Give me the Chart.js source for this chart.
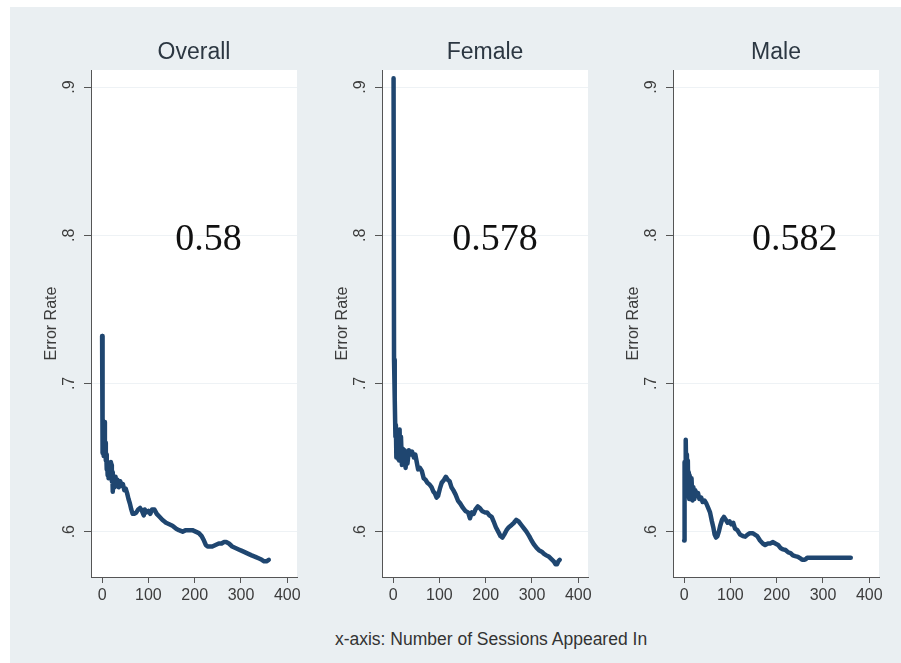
<!DOCTYPE html>
<html>
<head>
<meta charset="utf-8">
<script src="https://cdn.jsdelivr.net/npm/chart.js@4/dist/chart.umd.min.js"></script>
<style>
  html, body { margin: 0; padding: 0; background: #fff; }
  body { width: 901px; height: 663px; position: relative; overflow: hidden; }
  #frame { position: absolute; left: 10px; top: 7px; width: 891px; height: 656px; background: #eaeff2; }
  canvas { position: absolute; top: 20px; }
  #c1 { left: 20px; }
  #c2 { left: 311px; }
  #c3 { left: 602px; }
  #foot {
    position: absolute; left: 291px; width: 400px; top: 629px; text-align: center;
    font: 17.5px "Liberation Sans", Arial, sans-serif; color: #333;
  }
</style>
</head>
<body>
<div id="frame"></div>
<canvas id="c1" width="290" height="600"></canvas>
<canvas id="c2" width="290" height="600"></canvas>
<canvas id="c3" width="290" height="600"></canvas>
<div id="foot">x-axis: Number of Sessions Appeared In</div>

<script>
// Running error rate by number of sessions, three panels (Stata-style graph).

const titles = ["Overall", "Female", "Male"];
const notes = ["0.58", "0.578", "0.582"];
const xTicks = [0, 100, 200, 300, 400];
const yTicks = [0.6, 0.7, 0.8, 0.9];
const yTickLabels = [".6", ".7", ".8", ".9"];

const overallX = [0, 1, 2, 3, 4, 5, 6, 7, 8, 9, 10, 11, 12, 13, 14, 16, 18, 19, 20, 21, 22, 23, 25, 27, 29, 31, 33, 36, 39, 42, 45, 48, 51, 54, 57, 60, 63, 66, 70, 74, 78, 82, 86, 90, 92, 96, 100, 104, 108, 113, 118, 124, 130, 138, 145, 152, 160, 166, 174, 181, 188, 195, 202, 209, 215, 220, 224, 228, 233, 238, 245, 252, 258, 263, 268, 274, 281, 288, 295, 302, 309, 316, 323, 331, 338, 345, 350, 355, 360];
const overallY = [0.732, 0.653, 0.660, 0.651, 0.655, 0.674, 0.652, 0.660, 0.648, 0.652, 0.642, 0.646, 0.638, 0.643, 0.636, 0.641, 0.637, 0.647, 0.645, 0.634, 0.640, 0.627, 0.636, 0.630, 0.637, 0.632, 0.635, 0.630, 0.634, 0.631, 0.632, 0.628, 0.629, 0.626, 0.622, 0.619, 0.615, 0.612, 0.612, 0.613, 0.615, 0.616, 0.614, 0.611, 0.615, 0.613, 0.614, 0.612, 0.615, 0.615, 0.612, 0.610, 0.608, 0.606, 0.605, 0.604, 0.602, 0.601, 0.600, 0.601, 0.601, 0.601, 0.600, 0.599, 0.597, 0.594, 0.591, 0.590, 0.590, 0.590, 0.591, 0.592, 0.592, 0.593, 0.593, 0.592, 0.590, 0.589, 0.588, 0.587, 0.586, 0.585, 0.584, 0.583, 0.582, 0.581, 0.580, 0.580, 0.581];

const femaleX = [1, 2, 3, 4, 5, 6, 7, 8, 9, 10, 11, 12, 13, 14, 15, 17, 19, 21, 23, 25, 27, 29, 31, 34, 37, 41, 45, 48, 51, 54, 58, 62, 66, 70, 74, 78, 83, 87, 90, 94, 97, 101, 105, 110, 114, 118, 122, 126, 130, 135, 140, 145, 151, 156, 162, 166, 170, 174, 178, 183, 187, 192, 198, 203, 208, 213, 217, 222, 227, 232, 236, 240, 245, 250, 256, 261, 266, 271, 277, 283, 288, 294, 299, 305, 310, 315, 321, 326, 331, 337, 342, 347, 351, 354, 357, 360];
const femaleY = [0.906, 0.716, 0.705, 0.690, 0.664, 0.672, 0.650, 0.668, 0.652, 0.666, 0.649, 0.660, 0.648, 0.669, 0.652, 0.664, 0.645, 0.656, 0.650, 0.655, 0.643, 0.652, 0.646, 0.655, 0.652, 0.654, 0.650, 0.652, 0.647, 0.642, 0.643, 0.641, 0.636, 0.635, 0.633, 0.632, 0.630, 0.627, 0.626, 0.623, 0.624, 0.629, 0.633, 0.635, 0.637, 0.635, 0.634, 0.630, 0.628, 0.625, 0.621, 0.619, 0.616, 0.614, 0.613, 0.609, 0.613, 0.612, 0.615, 0.617, 0.616, 0.614, 0.613, 0.613, 0.611, 0.610, 0.607, 0.603, 0.600, 0.597, 0.596, 0.598, 0.601, 0.603, 0.6045, 0.606, 0.608, 0.607, 0.6045, 0.602, 0.600, 0.597, 0.594, 0.591, 0.589, 0.5875, 0.5865, 0.585, 0.584, 0.583, 0.5815, 0.580, 0.578, 0.578, 0.580, 0.581];

const maleX = [0, 1, 2, 3, 4, 5, 6, 7, 8, 9, 10, 11, 12, 14, 16, 18, 20, 22, 24, 27, 30, 33, 37, 40, 44, 48, 52, 56, 60, 63, 66, 69, 72, 75, 78, 82, 86, 90, 94, 98, 102, 106, 110, 115, 121, 127, 132, 137, 142, 148, 153, 158, 164, 170, 175, 181, 186, 192, 197, 203, 208, 214, 219, 225, 230, 235, 240, 246, 251, 255, 259, 263, 266, 300, 330, 360];
const maleY = [0.594, 0.647, 0.625, 0.655, 0.662, 0.630, 0.652, 0.624, 0.648, 0.627, 0.640, 0.622, 0.638, 0.624, 0.636, 0.621, 0.630, 0.622, 0.628, 0.624, 0.626, 0.622, 0.623, 0.620, 0.621, 0.619, 0.616, 0.613, 0.607, 0.603, 0.598, 0.596, 0.597, 0.600, 0.604, 0.608, 0.610, 0.608, 0.606, 0.607, 0.605, 0.606, 0.602, 0.601, 0.598, 0.597, 0.5966, 0.598, 0.599, 0.599, 0.598, 0.597, 0.594, 0.592, 0.591, 0.592, 0.592, 0.593, 0.592, 0.591, 0.589, 0.588, 0.5876, 0.586, 0.5855, 0.584, 0.5835, 0.583, 0.582, 0.581, 0.581, 0.5815, 0.5824, 0.5824, 0.5824, 0.5824];

const FONT = '"Liberation Sans", Arial, Helvetica, sans-serif';
const INK = "#3c3c3c";
const AXIS = "#555";
const NAVY = "#1f4670";

// white plot region behind the line
const plotBg = {
  id: "plotBg",
  beforeDraw(chart) {
    const { ctx, chartArea: a } = chart;
    ctx.save();
    ctx.fillStyle = "#fff";
    ctx.fillRect(a.left, a.top, a.right - a.left, a.bottom - a.top);
    ctx.restore();
  },
};

// Stata writes y labels vertically; Chart.js can't rotate y ticks, so draw them here.
const yLabels = {
  id: "yLabels",
  afterDraw(chart) {
    const { ctx, chartArea } = chart;
    const y = chart.scales.y;
    ctx.save();
    ctx.font = "16px " + FONT;
    ctx.fillStyle = INK;
    ctx.textAlign = "center";
    ctx.textBaseline = "middle";
    yTicks.forEach((v, i) => {
      ctx.save();
      ctx.translate(chartArea.left - 21, y.getPixelForValue(v));
      ctx.rotate(-Math.PI / 2);
      ctx.fillText(yTickLabels[i], 0, 0);
      ctx.restore();
    });
    ctx.restore();
  },
};

// the big final-value note inside each panel
function notePlugin(text, at) {
  return {
    id: "note",
    afterDraw(chart) {
      const { ctx, scales } = chart;
      ctx.save();
      ctx.font = '38px "Liberation Serif", "DejaVu Serif", serif';
      ctx.fillStyle = "#111";
      ctx.textAlign = "center";
      ctx.textBaseline = "middle";
      ctx.fillText(text, scales.x.getPixelForValue(at.x), scales.y.getPixelForValue(at.y));
      ctx.restore();
    },
  };
}

function panel(id, title, xs, ys, note, noteAt) {
  return new Chart(document.getElementById(id), {
    type: "line",
    data: {
      datasets: [{
        data: xs.map((x, i) => ({ x, y: ys[i] })),
        borderColor: NAVY,
        borderWidth: 4.5,
        borderJoinStyle: "round",
        borderCapStyle: "round",
        pointRadius: 0,
        tension: 0,
        fill: false,
      }],
    },
    options: {
      responsive: false,
      animation: false,
      events: [],
      layout: { padding: { left: 0, right: 13, top: 0, bottom: 0 }, autoPadding: false },
      plugins: {
        legend: { display: false },
        tooltip: { enabled: false },
        title: {
          display: true,
          text: title,
          fullSize: false,
          color: "#2c3742",
          font: { family: FONT, size: 23, weight: "normal" },
          padding: { top: 19, bottom: 3.4 },
        },
      },
      scales: {
        x: {
          type: "linear",
          min: -24,
          max: 421,
          afterBuildTicks: (s) => { s.ticks = xTicks.map((v) => ({ value: v })); },
          afterFit: (s) => { s.height = 43; },
          grid: { drawOnChartArea: false, drawTicks: true, tickLength: 6, tickColor: AXIS },
          border: { color: AXIS, width: 1 },
          ticks: { color: INK, font: { family: FONT, size: 16 }, padding: 3, maxRotation: 0, autoSkip: false },
        },
        y: {
          type: "linear",
          min: 0.5694,
          max: 0.9115,
          afterBuildTicks: (s) => { s.ticks = yTicks.map((v) => ({ value: v })); },
          afterFit: (s) => { s.width = 71; },
          grid: { color: "#eef2f5", lineWidth: 1, tickLength: 7, tickColor: AXIS },
          border: { color: AXIS, width: 1 },
          ticks: { display: false },
          title: {
            display: true,
            text: "Error Rate",
            color: INK,
            font: { family: FONT, size: 16 },
            padding: { top: 22.4, bottom: 0 },
          },
        },
      },
    },
    plugins: [plotBg, yLabels, notePlugin(note, noteAt)],
  });
}

panel("c1", titles[0], overallX, overallY, notes[0], { x: 230, y: 0.797 });
panel("c2", titles[1], femaleX, femaleY, notes[1], { x: 220, y: 0.797 });
panel("c3", titles[2], maleX, maleY, notes[2], { x: 239, y: 0.797 });
</script>
</body>
</html>
